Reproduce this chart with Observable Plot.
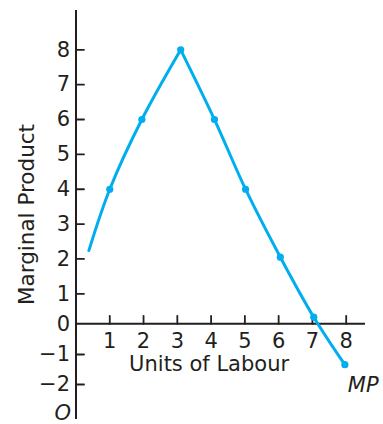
<!DOCTYPE html>
<html><head><meta charset="utf-8">
<script src="https://cdn.jsdelivr.net/npm/d3@7"></script>
<script src="https://cdn.jsdelivr.net/npm/@observablehq/plot@0.6"></script>
<style>
body{margin:0;background:#fff}
#chart svg{display:block;overflow:visible;font-family:"DejaVu Sans",sans-serif}
</style>
</head><body><div id="chart"></div>
<script>
// Data
const units = [1, 1.95, 3.1, 4.1, 5.02, 6.05, 7.04, 7.96];
const marginalProduct = [4, 6, 8, 6, 4, 2.05, 0.22, -1.34];
const curveStartUnits = 0.38;
const curveStartMP = 2.24;
const peakIndex = 2;
const xTicks = [1, 2, 3, 4, 5, 6, 7, 8];
const yTicks = [-2, -1, 0, 1, 2, 3, 4, 5, 6, 7, 8];
const xAxisEnd = 8.57;
const yAxisBottom = -3.17;
const yAxisTop = 9.13;

// The printed axis is not evenly spaced: warp its values onto an even scale
const yWarp = d3.scaleLinear().domain([-2, -1, 0, 1, 8]).range([-2, -1.104, -0.186, 0.71, 8]);

const points = units.map((u, i) => ({x: u, y: marginalProduct[i]}));
const leftSeg = [{x: curveStartUnits, y: curveStartMP}, ...points.slice(0, peakIndex + 1)].map(d => ({...d, seg: "a"}));
const rightSeg = points.slice(peakIndex).map(d => ({...d, seg: "b"}));
const lineData = [...leftSeg, ...rightSeg];

const ink = "#231f20";
const blue = "#00aeef";
const fmt = d => d < 0 ? "\u2212" + (-d) : String(d);
const tickShape = {draw(ctx, l) { ctx.moveTo(0, 0); ctx.lineTo(0, -l); }};

const chart = Plot.plot({
  width: 383,
  height: 424,
  margin: 0,
  style: {background: "#fff", color: ink, fontFamily: "DejaVu Sans, sans-serif"},
  x: {domain: [0, 8], range: [75.5, 345.7], axis: null},
  y: {transform: yWarp, domain: [-2, 8], range: [384, 49.3], axis: null},
  marks: [
    Plot.ruleX([0], {y1: yAxisBottom, y2: yAxisTop, stroke: ink, strokeWidth: 2}),
    Plot.ruleY([0], {x1: 0, x2: xAxisEnd, stroke: ink, strokeWidth: 2}),
    Plot.vector(xTicks, {x: d => d, y: () => 0, length: 8, rotate: 0, anchor: "start", shape: tickShape, stroke: ink, strokeWidth: 1.8, fill: "none"}),
    Plot.vector(yTicks.filter(d => d !== 0), {x: () => 0, y: d => d, length: 8, rotate: 90, anchor: "start", shape: tickShape, stroke: ink, strokeWidth: 1.8, fill: "none"}),
    Plot.text(yTicks, {x: () => 0, y: d => d, text: fmt, textAnchor: "end", dx: -6, fontSize: 21, fill: ink}),
    Plot.text(xTicks, {x: d => d, y: () => 0, text: fmt, lineAnchor: "bottom", dy: 24, fontSize: 21, fill: ink}),
    Plot.text(["Units of Labour"], {x: () => 4, y: () => 0, text: d => d, lineAnchor: "bottom", dx: -2, dy: 47, fontSize: 21, fill: ink}),
    Plot.text(["Marginal Product"], {frameAnchor: "left", rotate: -90, text: d => d, textAnchor: "middle", lineAnchor: "bottom", dx: 33, dy: 2, fontSize: 21.5, fill: ink}),
    Plot.text(["O"], {x: () => 0, y: () => -2, text: d => d, textAnchor: "end", lineAnchor: "bottom", dx: -5, dy: 35, fontSize: 21, fontStyle: "italic", fill: ink}),
    Plot.line(lineData, {x: "x", y: "y", z: "seg", curve: "catmull-rom", stroke: blue, strokeWidth: 3}),
    Plot.dot(points, {x: "x", y: "y", r: 3.6, fill: blue}),
    Plot.text(["MP"], {x: () => units[units.length - 1], y: () => marginalProduct[marginalProduct.length - 1], text: d => d, textAnchor: "start", lineAnchor: "bottom", dx: 3, dy: 27, fontSize: 21, fontStyle: "italic", fill: ink})
  ]
});
document.getElementById("chart").appendChild(chart);
</script>
</body></html>
